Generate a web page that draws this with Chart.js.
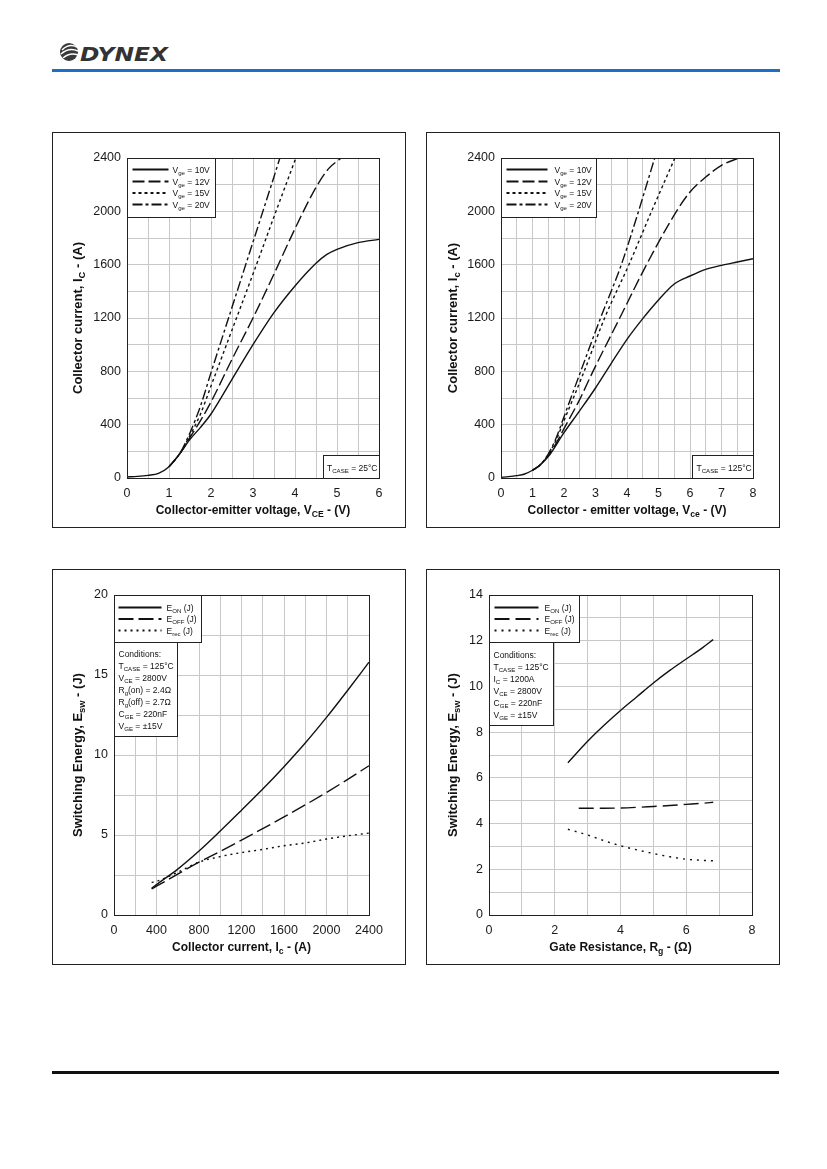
<!DOCTYPE html>
<html>
<head>
<meta charset="utf-8">
<script src="https://cdn.jsdelivr.net/npm/chart.js@4.4.1/dist/chart.umd.min.js"></script>
<style>
html, body { margin: 0; padding: 0; background: #fff; }
body { width: 827px; height: 1169px; position: relative; overflow: hidden; font-family: "Liberation Sans", Arial, sans-serif; }
.panel { position: absolute; width: 354px; height: 396px; border: 1px solid #222; box-sizing: border-box; background: #fff; }
.panel canvas { position: absolute; left: 0; top: 0; }
#rule { position: absolute; left: 52px; top: 69px; width: 728px; height: 3px; background: #1c6fc6; }
#foot { position: absolute; left: 52px; top: 1071px; width: 727px; height: 3px; background: #111; }
#logo { position: absolute; left: 58px; top: 38px; }
</style>
</head>
<body>
<svg id="logo" width="120" height="28" viewBox="0 0 120 28">
	<circle cx="11" cy="14" r="9" fill="#3a3a3a"/>
	<path d="M4 12 Q11 5 19 9" stroke="#fff" stroke-width="1.6" fill="none"/>
	<path d="M3 16 Q11 9 20 13" stroke="#fff" stroke-width="1.6" fill="none"/>
	<path d="M5 20 Q12 14 20 17" stroke="#fff" stroke-width="1.4" fill="none"/>
	<text x="22" y="23" font-family="DejaVu Sans" font-weight="bold" font-style="italic" font-size="20" fill="#333" textLength="88" lengthAdjust="spacingAndGlyphs">DYNEX</text>
</svg>
<div id="rule"></div>

<div class="panel" style="left:52px;top:132px"><canvas id="c1" width="352" height="394"></canvas></div>
<div class="panel" style="left:426px;top:132px"><canvas id="c2" width="352" height="394"></canvas></div>
<div class="panel" style="left:52px;top:569px"><canvas id="c3" width="352" height="394"></canvas></div>
<div class="panel" style="left:426px;top:569px"><canvas id="c4" width="352" height="394"></canvas></div>

<div id="foot"></div>

<script>
// ---- data: output characteristics, Tcase = 25°C ----
const vce25_10 = [0, 0.25, 0.5, 0.75, 1, 1.25, 1.5, 1.75, 2, 2.5, 3, 3.5, 4, 4.5, 4.75, 5, 5.5, 6];
const ic25_10 = [8, 12, 20, 35, 85, 180, 290, 380, 480, 740, 1000, 1240, 1440, 1610, 1675, 1715, 1765, 1790];
const vce25_12 = [1, 1.25, 1.5, 1.75, 2, 2.5, 3, 3.5, 4, 4.5, 4.8, 5.1];
const ic25_12 = [85, 180, 305, 430, 570, 890, 1200, 1530, 1870, 2180, 2320, 2400];
const vce25_15 = [1, 1.25, 1.5, 1.75, 2, 2.5, 3, 3.5, 4.02];
const ic25_15 = [85, 180, 320, 480, 690, 1110, 1530, 1960, 2400];
const vce25_20 = [1, 1.25, 1.5, 1.75, 2, 2.5, 3, 3.5, 3.64];
const ic25_20 = [85, 180, 340, 540, 790, 1280, 1770, 2260, 2400];

// ---- data: output characteristics, Tcase = 125°C ----
const vce125_10 = [0, 0.25, 0.5, 0.75, 1, 1.25, 1.5, 2, 2.5, 3, 3.5, 4, 4.5, 5, 5.5, 6, 6.5, 7, 7.5, 8];
const ic125_10 = [5, 10, 18, 30, 58, 100, 160, 340, 505, 675, 860, 1040, 1195, 1335, 1455, 1515, 1565, 1595, 1620, 1645];
const vce125_12 = [1, 1.25, 1.5, 1.75, 2, 2.5, 2.92, 3.77, 4.62, 5.57, 6, 6.5, 7, 7.55];
const ic125_12 = [58, 100, 170, 260, 370, 590, 800, 1200, 1600, 2000, 2145, 2257, 2345, 2400];
const vce125_15 = [1, 1.25, 1.5, 1.75, 2, 2.64, 3.29, 4.06, 4.78, 5.52];
const ic125_15 = [58, 100, 175, 285, 430, 800, 1200, 1600, 2000, 2400];
const vce125_20 = [1, 1.25, 1.5, 1.75, 2, 2.53, 3.16, 3.82, 4.3, 4.88];
const ic125_20 = [58, 100, 180, 300, 460, 800, 1200, 1600, 1950, 2400];

// ---- data: switching energy vs collector current ----
const icSw = [354, 400, 600, 800, 1000, 1200, 1400, 1600, 1800, 2000, 2200, 2400];
const eonIc = [1.67, 1.9, 2.87, 4.0, 5.25, 6.55, 7.87, 9.27, 10.75, 12.35, 14.05, 15.8];
const eoffIc = [1.63, 1.8, 2.56, 3.3, 3.98, 4.68, 5.4, 6.13, 6.88, 7.66, 8.48, 9.33];
const erecIc = [2.04, 2.1, 2.67, 3.3, 3.65, 3.9, 4.1, 4.33, 4.5, 4.75, 4.95, 5.12];

// ---- data: switching energy vs gate resistance ----
const rgOn = [2.4, 3, 3.5, 4, 4.5, 5, 5.5, 6, 6.5, 6.82];
const eonRg = [6.66, 7.6, 8.3, 8.95, 9.55, 10.15, 10.7, 11.2, 11.7, 12.05];
const rgOff = [2.73, 3.5, 4, 4.5, 5, 5.5, 6, 6.5, 6.82];
const eoffRg = [4.67, 4.67, 4.68, 4.71, 4.75, 4.79, 4.84, 4.89, 4.93];
const rgRec = [2.4, 3, 3.5, 4, 4.5, 5, 5.5, 6, 6.5, 6.82];
const erecRg = [3.75, 3.5, 3.25, 3.03, 2.85, 2.69, 2.55, 2.44, 2.39, 2.37];

// ---- tick labels ----
const vceLabels25 = [0, 1, 2, 3, 4, 5, 6];
const vceLabels125 = [0, 1, 2, 3, 4, 5, 6, 7, 8];
const icLabels = [0, 400, 800, 1200, 1600, 2000, 2400];
const eswLabels = [0, 5, 10, 15, 20];
const rgLabels = [0, 2, 4, 6, 8];
const eswRgLabels = [0, 2, 4, 6, 8, 10, 12, 14];

// ---- notes ----
const condIc = ['Conditions:', 'T_{CASE} = 125°C', 'V_{CE} = 2800V', 'R_{g}(on) = 2.4Ω', 'R_{g}(off) = 2.7Ω', 'C_{GE} = 220nF', 'V_{GE} = ±15V'];
const condRg = ['Conditions:', 'T_{CASE} = 125°C', 'I_{C} = 1200A', 'V_{CE} = 2800V', 'C_{GE} = 220nF', 'V_{GE} = ±15V'];

const FAM = '"Liberation Sans", Arial, sans-serif';
const INK = '#111';

function pts(xs, ys) {
	return xs.map((x, i) => ({ x: x, y: ys[i] }));
}

function line(label, xs, ys, dash) {
	return {
		label: label,
		data: pts(xs, ys),
		borderColor: INK,
		borderWidth: 1.4,
		borderDash: dash,
		pointRadius: 0,
		cubicInterpolationMode: 'monotone',
		fill: false,
	};
}

// text with _{sub} parts
function drawRich(ctx, str, x, y, size, weight, align) {
	const parts = [];
	const re = /_\{([^}]*)\}|([^_]+)/g;
	let m;
	while ((m = re.exec(str))) {
		parts.push(m[1] !== undefined ? { t: m[1], sub: true } : { t: m[2], sub: false });
	}
	const font = p => `${weight} ${p.sub ? size * 0.72 : size}px ${FAM}`;
	let w = 0;
	parts.forEach(p => {
		ctx.font = font(p);
		p.w = ctx.measureText(p.t).width;
		w += p.w;
	});
	let cx = align === 'center' ? x - w / 2 : x;
	ctx.textAlign = 'left';
	ctx.textBaseline = 'alphabetic';
	const base = y + size * 0.36;
	parts.forEach(p => {
		ctx.font = font(p);
		ctx.fillText(p.t, cx, base + (p.sub ? size * 0.25 : 0));
		cx += p.w;
	});
}

function decor(cfg) {
	return {
		id: 'decor',
		afterDraw(chart) {
			const ctx = chart.ctx;
			const ca = chart.chartArea;
			ctx.save();
			ctx.fillStyle = INK;
			// plot frame
			ctx.strokeStyle = '#222';
			ctx.lineWidth = 1;
			ctx.setLineDash([]);
			ctx.strokeRect(Math.round(ca.left) + 0.5, Math.round(ca.top) + 0.5, Math.round(ca.width), Math.round(ca.height));
			// axis titles
			drawRich(ctx, cfg.xTitle, (ca.left + ca.right) / 2, ca.bottom + cfg.xTitleDy, 12, 'bold', 'center');
			ctx.save();
			ctx.translate(cfg.yTitleX, (ca.top + ca.bottom) / 2);
			ctx.rotate(-Math.PI / 2);
			drawRich(ctx, cfg.yTitle, 0, 0, 13, 'bold', 'center');
			ctx.restore();
			// legend box
			const lg = cfg.legend;
			const lx = Math.round(ca.left) + 0.5;
			const ly = Math.round(ca.top) + 0.5;
			ctx.fillStyle = '#fff';
			ctx.fillRect(lx, ly, lg.w, lg.h);
			ctx.strokeRect(lx, ly, lg.w, lg.h);
			chart.data.datasets.forEach((ds, i) => {
				const y = ly + lg.rows[i];
				ctx.strokeStyle = INK;
				ctx.lineWidth = 2;
				ctx.setLineDash(ds.borderDash || []);
				ctx.beginPath();
				ctx.moveTo(lx + lg.l0, y);
				ctx.lineTo(lx + lg.l1, y);
				ctx.stroke();
				ctx.setLineDash([]);
				ctx.fillStyle = INK;
				drawRich(ctx, ds.label, lx + lg.tx, y, 8.5, 'normal', 'left');
			});
			// notes box
			const nb = cfg.note;
			if (nb) {
				const nx = nb.corner === 'br' ? Math.round(ca.right) - nb.w + 0.5 : lx;
				const ny = nb.corner === 'br' ? Math.round(ca.bottom) - nb.h + 0.5 : ly + lg.h;
				ctx.fillStyle = '#fff';
				ctx.strokeStyle = '#222';
				ctx.lineWidth = 1;
				ctx.fillRect(nx, ny, nb.w, nb.h);
				ctx.strokeRect(nx, ny, nb.w, nb.h);
				ctx.fillStyle = INK;
				nb.lines.forEach((t, i) => {
					drawRich(ctx, t, nx + nb.tx, ny + nb.ty + i * nb.lh, 8.5, 'normal', 'left');
				});
			}
			ctx.restore();
		},
	};
}

function makeChart(id, cfg) {
	const tickFont = { family: FAM, size: 12.5 };
	const pick = labels => v => (labels.includes(Math.round(v * 1000) / 1000) ? String(v) : '');
	new Chart(document.getElementById(id), {
		type: 'line',
		data: { datasets: cfg.datasets },
		options: {
			responsive: false,
			animation: false,
			layout: { padding: { top: cfg.pad.t, right: cfg.pad.r, left: 0, bottom: 0 } },
			plugins: { legend: { display: false }, tooltip: { enabled: false } },
			scales: {
				x: {
					type: 'linear',
					min: cfg.x.min,
					max: cfg.x.max,
					ticks: { stepSize: cfg.x.step, autoSkip: false, maxRotation: 0, padding: 8, color: '#1a1a1a', font: tickFont, callback: pick(cfg.x.labels) },
					grid: { color: '#c8c8c8', drawTicks: false },
					border: { display: false },
					afterFit: s => { s.height = cfg.pad.b; },
				},
				y: {
					type: 'linear',
					min: cfg.y.min,
					max: cfg.y.max,
					ticks: { stepSize: cfg.y.step, autoSkip: false, padding: 6, color: '#1a1a1a', font: tickFont, callback: pick(cfg.y.labels) },
					grid: { color: '#c8c8c8', drawTicks: false },
					border: { display: false },
					afterFit: s => { s.width = cfg.pad.l; },
				},
			},
		},
		plugins: [decor(cfg)],
	});
}

const DASH12 = [12, 4];
const DOT = [3, 3];
const DASHDOT = [10, 3, 3, 3];

makeChart('c1', {
	pad: { l: 74, t: 25, r: 26, b: 49 },
	x: { min: 0, max: 6, step: 0.5, labels: vceLabels25 },
	y: { min: 0, max: 2400, step: 200, labels: icLabels },
	xTitle: 'Collector-emitter voltage, V_{CE} - (V)',
	yTitle: 'Collector current, I_{C} - (A)',
	xTitleDy: 32,
	yTitleX: 24,
	datasets: [
		line('V_{ge} = 10V', vce25_10, ic25_10, []),
		line('V_{ge} = 12V', vce25_12, ic25_12, DASH12),
		line('V_{ge} = 15V', vce25_15, ic25_15, DOT),
		line('V_{ge} = 20V', vce25_20, ic25_20, DASHDOT),
	],
	legend: { w: 88, h: 59, l0: 5, l1: 41, tx: 45, rows: [11, 23, 34.5, 46] },
	note: { corner: 'br', w: 56, h: 23, tx: 3.5, ty: 12, lh: 0, lines: ['T_{CASE} = 25°C'] },
});

makeChart('c2', {
	pad: { l: 74, t: 25, r: 26, b: 49 },
	x: { min: 0, max: 8, step: 0.5, labels: vceLabels125 },
	y: { min: 0, max: 2400, step: 200, labels: icLabels },
	xTitle: 'Collector - emitter voltage, V_{ce} - (V)',
	yTitle: 'Collector current, I_{c} - (A)',
	xTitleDy: 32,
	yTitleX: 25,
	datasets: [
		line('V_{ge} = 10V', vce125_10, ic125_10, []),
		line('V_{ge} = 12V', vce125_12, ic125_12, DASH12),
		line('V_{ge} = 15V', vce125_15, ic125_15, DOT),
		line('V_{ge} = 20V', vce125_20, ic125_20, DASHDOT),
	],
	legend: { w: 95, h: 59, l0: 5, l1: 46, tx: 53, rows: [11, 23, 34.5, 46] },
	note: { corner: 'br', w: 61, h: 23, tx: 4, ty: 12, lh: 0, lines: ['T_{CASE} = 125°C'] },
});

makeChart('c3', {
	pad: { l: 61, t: 25, r: 36, b: 49 },
	x: { min: 0, max: 2400, step: 200, labels: icLabels },
	y: { min: 0, max: 20, step: 2.5, labels: eswLabels },
	xTitle: 'Collector current, I_{c} - (A)',
	yTitle: 'Switching Energy, E_{sw} - (J)',
	xTitleDy: 31.5,
	yTitleX: 24,
	datasets: [
		line('E_{ON} (J)', icSw, eonIc, []),
		line('E_{OFF} (J)', icSw, eoffIc, [15, 5]),
		line('E_{rec} (J)', icSw, erecIc, [2, 4]),
	],
	legend: { w: 87, h: 47, l0: 4, l1: 47, tx: 52, rows: [12, 23.5, 35] },
	note: { corner: 'tl', w: 63, h: 94, tx: 4, ty: 11, lh: 12, lines: condIc },
});

makeChart('c4', {
	pad: { l: 62, t: 25, r: 27, b: 49 },
	x: { min: 0, max: 8, step: 1, labels: rgLabels },
	y: { min: 0, max: 14, step: 1, labels: eswRgLabels },
	xTitle: 'Gate Resistance, R_{g} - (Ω)',
	yTitle: 'Switching Energy, E_{sw} - (J)',
	xTitleDy: 31.5,
	yTitleX: 25,
	datasets: [
		line('E_{ON} (J)', rgOn, eonRg, []),
		line('E_{OFF} (J)', rgOff, eoffRg, [15, 6]),
		line('E_{rec} (J)', rgRec, erecRg, [2, 5]),
	],
	legend: { w: 90, h: 47, l0: 5, l1: 49, tx: 55, rows: [12, 23.5, 35] },
	note: { corner: 'tl', w: 64, h: 83, tx: 4, ty: 12, lh: 12, lines: condRg },
});
</script>
</body>
</html>
